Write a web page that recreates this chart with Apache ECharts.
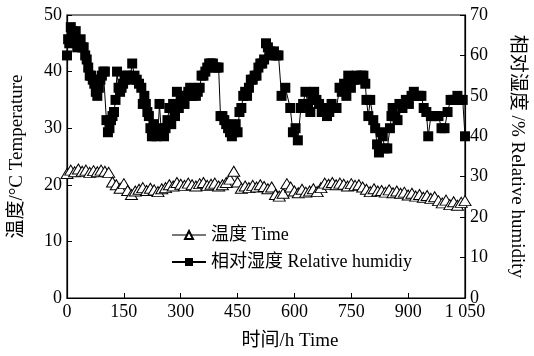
<!DOCTYPE html>
<html>
<head>
<meta charset="utf-8">
<script src="https://cdn.jsdelivr.net/npm/echarts@6/dist/echarts.min.js"></script>
<style>
  html, body { margin: 0; padding: 0; background: #fff; }
  #chart { width: 534px; height: 356px; }
</style>
</head>
<body>
<div id="chart"></div>
<script>
// 温度 (every 10 h)
const tempHours = [0, 10, 20, 30, 40, 50, 60, 70, 80, 90, 100, 110, 120, 130, 140, 150, 160, 170, 180, 190,
  200, 210, 220, 230, 240, 250, 260, 270, 280, 290, 300, 310, 320, 330, 340, 350, 360, 370, 380, 390,
  400, 410, 420, 430, 440, 450, 460, 470, 480, 490, 500, 510, 520, 530, 540, 550, 560, 570, 580, 590,
  600, 610, 620, 630, 640, 650, 660, 670, 680, 690, 700, 710, 720, 730, 740, 750, 760, 770, 780, 790,
  800, 810, 820, 830, 840, 850, 860, 870, 880, 890, 900, 910, 920, 930, 940, 950, 960, 970, 980, 990,
  1000, 1010, 1020, 1030, 1040, 1050];
const tempValues = [22.0, 22.6, 22.3, 22.8, 22.4, 22.6, 22.2, 22.5, 22.3, 22.6, 22.4, 22.2, 20.5, 20.0, 19.4, 20.2, 19.0, 18.3, 18.9, 19.2,
  19.5, 19.0, 19.4, 19.1, 18.8, 19.3, 19.5, 20.0, 19.8, 20.4, 20.1, 19.9, 20.3, 20.0, 19.8, 20.2, 20.4, 19.9, 20.1, 20.3,
  19.8, 20.0, 20.4, 21.0, 22.4, 20.5, 19.4, 19.8, 19.5, 19.9, 19.6, 20.0, 19.7, 19.3, 19.6, 18.3, 18.0, 18.5, 20.2, 19.6,
  18.9, 18.6, 19.2, 18.7, 18.9, 19.3, 18.8, 19.5, 20.3, 20.1, 20.4, 20.0, 20.3, 20.1, 19.8, 20.2, 19.9, 20.0, 19.6, 19.2,
  18.8, 19.3, 18.9, 19.0, 18.7, 19.1, 18.6, 18.9, 18.5, 18.7, 18.2, 18.5, 18.0, 18.3, 17.8, 18.1, 17.6, 17.9, 17.2, 16.8,
  17.3, 16.5, 17.0, 16.4, 16.9, 17.2];

// 相对湿度
const rhHours = [0, 3, 6, 10, 14, 18, 23, 27, 32, 36, 40, 44, 48, 52, 56, 60, 64, 68, 72, 76,
  80, 84, 88, 92, 96, 100, 104, 108, 112, 116, 120, 124, 128, 132, 136, 140, 144, 148, 152, 156,
  160, 166, 172, 178, 184, 190, 196, 200, 204, 208, 212, 216, 220, 224, 228, 232, 236, 240, 244, 248,
  252, 256, 260, 265, 270, 275, 280, 285, 290, 295, 300, 305, 310, 315, 320, 325, 330, 335, 340, 345,
  350, 355, 360, 365, 370, 375, 380, 385, 390, 395, 400, 405, 410, 415, 420, 425, 430, 435, 440, 445,
  450, 455, 460, 465, 470, 475, 480, 485, 490, 495, 500, 505, 510, 515, 520, 525, 530, 535, 540, 546,
  552, 558, 566, 576, 589, 596, 603, 609, 617, 623, 629, 636, 642, 647, 652, 658, 665, 672, 679, 686,
  692, 698, 705, 711, 719, 725, 731, 737, 742, 749, 757, 764, 770, 776, 782, 787, 790, 795, 800, 808,
  813, 818, 823, 828, 833, 838, 845, 852, 856, 859, 866, 872, 877, 885, 894, 902, 909, 915, 922, 928,
  935, 941, 948, 953, 960, 966, 973, 980, 988, 996, 1004, 1012, 1018, 1024, 1030, 1037, 1044, 1050];
const rhValues = [60, 64, 63, 67, 66, 64, 66, 62, 63, 64, 62, 62, 60, 59, 57, 55, 55, 54, 53, 51,
  50, 52, 54, 55, 56, 56, 44, 41, 42, 44, 45, 46, 49, 56, 52, 51, 52, 53, 54, 55,
  55, 54, 58, 55, 54, 53, 52, 48, 50, 48, 46, 45, 42, 40, 43, 41, 40, 41, 48, 42,
  41, 40, 42, 44, 47, 43, 48, 45, 51, 47, 50, 49, 48, 50, 51, 52, 50, 51, 50, 51,
  52, 55, 55, 56, 57, 58, 58, 58, 57, 57, 57, 45, 45, 44, 43, 42, 41, 40, 41, 43,
  41, 46, 47, 50, 51, 50, 52, 54, 54, 55, 55, 57, 58, 58, 59, 63, 62, 61, 60, 61,
  60, 60, 50, 52, 47, 41, 42, 39, 47, 48, 51, 48, 46, 49, 51, 49, 48, 46, 47, 45,
  46, 48, 47, 47, 52, 51, 53, 50, 55, 52, 54, 55, 54, 55, 55, 53, 49, 45, 49, 44,
  42, 38, 36, 41, 40, 37, 37, 42, 45, 47, 45, 44, 48, 47, 49, 48, 50, 51, 50, 50,
  50, 47, 46, 40, 45, 45, 45, 45, 42, 42, 46, 49, 49, 49, 50, 49, 49, 40];

const font = "'Liberation Serif', 'Noto Sans CJK SC', serif";

function pairs(xs, ys) {
  return xs.map((x, i) => [x, ys[i]]);
}

const chart = echarts.init(document.getElementById('chart'));
chart.setOption({
  animation: false,
  textStyle: { fontFamily: font, color: '#000' },
  grid: {
    left: 61,
    right: 61,
    top: 15,
    bottom: 58,
    show: true,
    borderColor: '#000',
    borderWidth: 1.2,
    containLabel: false,
  },
  legend: {
    orient: 'vertical',
    left: 166,
    top: 221,
    itemGap: 9,
    itemWidth: 34,
    itemHeight: 10,
    textStyle: { fontFamily: font, fontSize: 18, color: '#000' },
    data: ['温度 Time', '相对湿度 Relative humidiy'],
  },
  xAxis: {
    type: 'value',
    min: 0,
    max: 1050,
    interval: 150,
    name: '时间/h Time',
    nameLocation: 'middle',
    nameGap: 34,
    nameTextStyle: { fontFamily: font, fontSize: 19, color: '#000', padding: [0, 0, 0, 48] },
    axisLine: { lineStyle: { color: '#000', width: 1.2 } },
    axisTick: { inside: true, length: 5, lineStyle: { color: '#000' } },
    axisLabel: {
      fontFamily: font,
      fontSize: 18,
      color: '#000',
      margin: 5,
      formatter: (v) => (v === 1050 ? '1 050' : String(v)),
    },
    splitLine: { show: false },
  },
  yAxis: [
    {
      type: 'value',
      min: 0,
      max: 50,
      interval: 10,
      name: '温度/°C Temperature',
      nameLocation: 'middle',
      nameRotate: 90,
      nameGap: 40,
      nameTextStyle: { fontFamily: font, fontSize: 19, color: '#000', padding: [0, 0, 0, 0] },
      axisLine: { show: true, lineStyle: { color: '#000', width: 1.2 } },
      axisTick: { show: true, inside: true, length: 5, lineStyle: { color: '#000' } },
      axisLabel: { fontFamily: font, fontSize: 18, color: '#000', margin: 5 },
      splitLine: { show: false },
    },
    {
      type: 'value',
      min: 0,
      max: 70,
      interval: 10,
      position: 'right',
      name: '相对湿度 /% Relative humidity',
      nameLocation: 'middle',
      nameRotate: -90,
      nameGap: 42,
      nameTextStyle: { fontFamily: font, fontSize: 19, color: '#000' },
      axisLine: { show: true, lineStyle: { color: '#000', width: 1.2 } },
      axisTick: { show: true, inside: true, length: 5, lineStyle: { color: '#000' } },
      axisLabel: { fontFamily: font, fontSize: 18, color: '#000', margin: 5 },
      splitLine: { show: false },
    },
  ],
  series: [
    {
      name: '温度 Time',
      type: 'line',
      yAxisIndex: 0,
      data: pairs(tempHours, tempValues),
      symbol: 'triangle',
      symbolSize: [12, 10],
      showAllSymbol: true,
      lineStyle: { color: '#777', width: 1 },
      itemStyle: { color: '#fff', borderColor: '#000', borderWidth: 1 },
      z: 2,
    },
    {
      name: '相对湿度 Relative humidiy',
      type: 'line',
      yAxisIndex: 1,
      data: pairs(rhHours, rhValues),
      symbol: 'rect',
      symbolSize: 10,
      showAllSymbol: true,
      lineStyle: { color: '#000', width: 1 },
      itemStyle: { color: '#000' },
      z: 3,
    },
  ],
});
</script>
</body>
</html>
